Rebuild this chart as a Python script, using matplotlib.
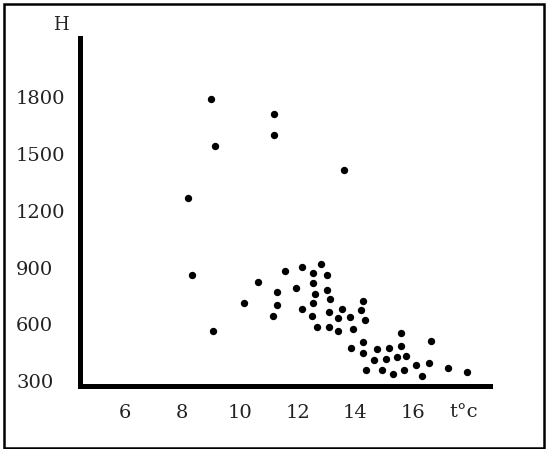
import matplotlib
matplotlib.use('Agg')
import matplotlib.pyplot as plt
from matplotlib.patches import Rectangle

# Temperature (t, °C) vs H readings
temp = [8.99, 11.17, 11.17, 9.14, 13.59, 8.21,
        8.33, 9.07, 10.13, 10.62, 11.56, 11.27, 11.27, 11.16,
        12.15, 11.94, 12.15, 12.81, 12.53, 13.01, 12.53, 12.59,
        13.01, 13.13, 12.53, 13.07, 12.49, 13.53, 13.41, 12.68,
        13.07, 13.41, 13.81, 14.27, 14.19, 14.33, 13.93, 13.85,
        14.27, 14.25, 14.74, 15.17, 15.58, 15.58, 16.61, 14.65,
        15.06, 15.43, 15.75, 16.10, 16.55, 14.37, 14.91, 15.31,
        15.68, 16.30, 17.20, 17.88]
height = [1790, 1710, 1600, 1542, 1414, 1266,
          862, 566, 714, 823, 883, 770, 703, 645,
          902, 793, 684, 921, 872, 862, 821, 763,
          782, 733, 714, 666, 645, 684, 635, 586,
          586, 568, 638, 724, 677, 624, 575, 475,
          507, 452, 470, 478, 557, 489, 515, 413,
          417, 427, 436, 388, 399, 360, 360, 339,
          360, 329, 369, 351]

x_ticks = [6, 8, 10, 12, 14, 16]
y_ticks = [300, 600, 900, 1200, 1500, 1800]

fig = plt.figure(figsize=(5.46, 4.49), dpi=100)
ax = fig.add_axes([80 / 546, (449 - 385.5) / 449, 410 / 546, (385.5 - 37.5) / 449])

ax.scatter(temp, height, s=28, color='black', linewidths=0, zorder=3)

ax.set_xlim(4.46, 18.66)
ax.set_ylim(278.5, 2112)

for side in ['top', 'right']:
    ax.spines[side].set_visible(False)
for side in ['left', 'bottom']:
    ax.spines[side].set_linewidth(3.6)
    ax.spines[side].set_capstyle('projecting')

font = 'DejaVu Serif'
ax.set_xticks(x_ticks)
ax.set_xticklabels([str(v) for v in x_ticks], fontsize=14, family=font, color='#222222')
ax.set_yticks(y_ticks)
ax.set_yticklabels([str(v) for v in y_ticks], fontsize=14, family=font, color='#222222')
for lab in ax.get_yticklabels():
    lab.set_horizontalalignment('left')
ax.tick_params(axis='x', length=0, pad=13)
ax.tick_params(axis='y', length=0, pad=46)

fig.text(60.5 / 546, 1 - 25 / 449, 'H', fontsize=13, family=font,
         ha='center', va='center', color='#222222')
fig.text(463.5 / 546, 1 - 412 / 449, 't°c', fontsize=14, family=font,
         ha='center', va='center', color='#222222')

# outer frame of the picture
fig.add_artist(Rectangle((3.5 / 546, 1.5 / 449), 540 / 546, 444 / 449,
                         transform=fig.transFigure, fill=False,
                         edgecolor='black', linewidth=1.8))

fig.savefig('out.png', dpi=100, facecolor='white')
